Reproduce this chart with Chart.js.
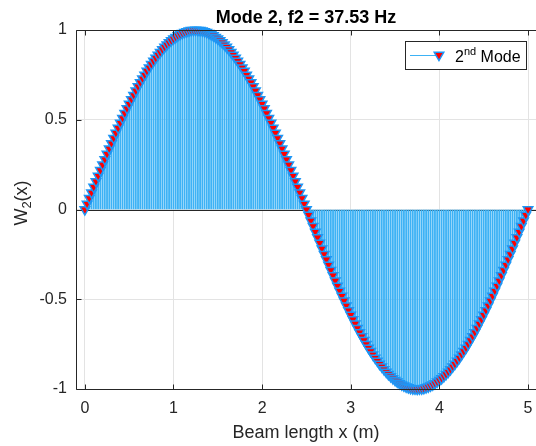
<!DOCTYPE html>
<html>
<head>
<meta charset="utf-8">
<script src="https://cdn.jsdelivr.net/npm/chart.js@4/dist/chart.umd.min.js"></script>
<style>
  html, body { margin: 0; padding: 0; background: #ffffff; }
  canvas { display: block; }
</style>
</head>
<body>
<canvas id="mode" width="536" height="446"></canvas>
<script>
// Sample positions along the beam (m)
const beamX = [
  0, 0.025, 0.05, 0.075, 0.1, 0.125, 0.15, 0.175,
  0.2, 0.225, 0.25, 0.275, 0.3, 0.325, 0.35, 0.375,
  0.4, 0.425, 0.45, 0.475, 0.5, 0.525, 0.55, 0.575,
  0.6, 0.625, 0.65, 0.675, 0.7, 0.725, 0.75, 0.775,
  0.8, 0.825, 0.85, 0.875, 0.9, 0.925, 0.95, 0.975,
  1, 1.025, 1.05, 1.075, 1.1, 1.125, 1.15, 1.175,
  1.2, 1.225, 1.25, 1.275, 1.3, 1.325, 1.35, 1.375,
  1.4, 1.425, 1.45, 1.475, 1.5, 1.525, 1.55, 1.575,
  1.6, 1.625, 1.65, 1.675, 1.7, 1.725, 1.75, 1.775,
  1.8, 1.825, 1.85, 1.875, 1.9, 1.925, 1.95, 1.975,
  2, 2.025, 2.05, 2.075, 2.1, 2.125, 2.15, 2.175,
  2.2, 2.225, 2.25, 2.275, 2.3, 2.325, 2.35, 2.375,
  2.4, 2.425, 2.45, 2.475, 2.5, 2.525, 2.55, 2.575,
  2.6, 2.625, 2.65, 2.675, 2.7, 2.725, 2.75, 2.775,
  2.8, 2.825, 2.85, 2.875, 2.9, 2.925, 2.95, 2.975,
  3, 3.025, 3.05, 3.075, 3.1, 3.125, 3.15, 3.175,
  3.2, 3.225, 3.25, 3.275, 3.3, 3.325, 3.35, 3.375,
  3.4, 3.425, 3.45, 3.475, 3.5, 3.525, 3.55, 3.575,
  3.6, 3.625, 3.65, 3.675, 3.7, 3.725, 3.75, 3.775,
  3.8, 3.825, 3.85, 3.875, 3.9, 3.925, 3.95, 3.975,
  4, 4.025, 4.05, 4.075, 4.1, 4.125, 4.15, 4.175,
  4.2, 4.225, 4.25, 4.275, 4.3, 4.325, 4.35, 4.375,
  4.4, 4.425, 4.45, 4.475, 4.5, 4.525, 4.55, 4.575,
  4.6, 4.625, 4.65, 4.675, 4.7, 4.725, 4.75, 4.775,
  4.8, 4.825, 4.85, 4.875, 4.9, 4.925, 4.95, 4.975,
  5
];

// Normalised mode-shape amplitude W2(x) at each sample
const modeShape = [
  0, 0.031, 0.063, 0.094, 0.125, 0.156, 0.187, 0.218,
  0.249, 0.279, 0.309, 0.339, 0.368, 0.397, 0.426, 0.454,
  0.482, 0.509, 0.536, 0.562, 0.588, 0.613, 0.637, 0.661,
  0.685, 0.707, 0.729, 0.750, 0.771, 0.790, 0.809, 0.827,
  0.844, 0.861, 0.876, 0.891, 0.905, 0.918, 0.930, 0.941,
  0.951, 0.960, 0.969, 0.976, 0.982, 0.988, 0.992, 0.996,
  0.998, 0.999, 1, 0.999, 0.998, 0.996, 0.992, 0.988,
  0.982, 0.976, 0.969, 0.960, 0.951, 0.941, 0.930, 0.918,
  0.905, 0.891, 0.876, 0.861, 0.844, 0.827, 0.809, 0.790,
  0.771, 0.750, 0.729, 0.707, 0.685, 0.661, 0.637, 0.613,
  0.588, 0.562, 0.536, 0.509, 0.482, 0.454, 0.426, 0.397,
  0.368, 0.339, 0.309, 0.279, 0.249, 0.218, 0.187, 0.156,
  0.125, 0.094, 0.063, 0.031, 0, -0.031, -0.063, -0.094,
  -0.125, -0.156, -0.187, -0.218, -0.249, -0.279, -0.309, -0.339,
  -0.368, -0.397, -0.426, -0.454, -0.482, -0.509, -0.536, -0.562,
  -0.588, -0.613, -0.637, -0.661, -0.685, -0.707, -0.729, -0.750,
  -0.771, -0.790, -0.809, -0.827, -0.844, -0.861, -0.876, -0.891,
  -0.905, -0.918, -0.930, -0.941, -0.951, -0.960, -0.969, -0.976,
  -0.982, -0.988, -0.992, -0.996, -0.998, -0.999, -1, -0.999,
  -0.998, -0.996, -0.992, -0.988, -0.982, -0.976, -0.969, -0.960,
  -0.951, -0.941, -0.930, -0.918, -0.905, -0.891, -0.876, -0.861,
  -0.844, -0.827, -0.809, -0.790, -0.771, -0.750, -0.729, -0.707,
  -0.685, -0.661, -0.637, -0.613, -0.588, -0.562, -0.536, -0.509,
  -0.482, -0.454, -0.426, -0.397, -0.368, -0.339, -0.309, -0.279,
  -0.249, -0.218, -0.187, -0.156, -0.125, -0.094, -0.063, -0.031,
  0
];

const xTickValues = [0, 1, 2, 3, 4, 5];
const yTickValues = [-1, -0.5, 0, 0.5, 1];
const yTickLabels = ['-1', '-0.5', '0', '0.5', '1'];

const titleText = 'Mode 2, f2 = 37.53 Hz';
const xLabelText = 'Beam length x (m)';

const FONT = '"Liberation Sans", Arial, Helvetica, sans-serif';
const AXIS_COLOR = '#262626';
const GRID_COLOR = '#e3e3e3';
const STEM_COLOR = '#3db2f5';
const MARKER_EDGE = '#1e96f5';
const MARKER_FILL = '#ff0000';

const points = beamX.map((x, i) => ({ x: x, y: modeShape[i] }));

function downTriangle(ctx, cx, cy, r) {
  ctx.beginPath();
  for (let k = 0; k < 3; k++) {
    const ang = Math.PI + k * 2 * Math.PI / 3;
    const px = cx + Math.sin(ang) * r, py = cy - Math.cos(ang) * r;
    if (k === 0) ctx.moveTo(px, py); else ctx.lineTo(px, py);
  }
  ctx.closePath();
}

// Axes box, inward ticks, titles and legend (MATLAB-style decorations)
const decorations = {
  id: 'decorations',
  beforeDatasetsDraw(chart) {
    const { ctx, chartArea: a, scales } = chart;
    const y0 = Math.round(scales.y.getPixelForValue(0)) + 0.5;
    ctx.save();
    ctx.strokeStyle = AXIS_COLOR;
    ctx.lineWidth = 1;
    ctx.beginPath();
    ctx.moveTo(a.left, y0);
    ctx.lineTo(a.right, y0);
    ctx.stroke();
    ctx.restore();
  },
  afterDraw(chart) {
    const { ctx, chartArea: a, scales } = chart;
    ctx.save();
    ctx.strokeStyle = AXIS_COLOR;
    ctx.lineWidth = 1;
    const L = Math.round(a.left) + 0.5;
    const B = Math.round(a.bottom) + 0.5;
    const T = Math.round(a.top) + 0.5;
    ctx.beginPath();
    ctx.moveTo(L, T); ctx.lineTo(a.right, T);
    ctx.moveTo(L, T); ctx.lineTo(L, B);
    ctx.moveTo(L, B); ctx.lineTo(a.right, B);
    const tl = 5;
    xTickValues.forEach(v => {
      const px = Math.round(scales.x.getPixelForValue(v)) + 0.5;
      ctx.moveTo(px, B); ctx.lineTo(px, B - tl);
      ctx.moveTo(px, T); ctx.lineTo(px, T + tl);
    });
    yTickValues.forEach(v => {
      const py = Math.round(scales.y.getPixelForValue(v)) + 0.5;
      ctx.moveTo(L, py); ctx.lineTo(L + tl, py);
    });
    ctx.stroke();

    // title
    ctx.fillStyle = '#000000';
    ctx.font = 'bold 18px ' + FONT;
    ctx.textAlign = 'center';
    ctx.textBaseline = 'alphabetic';
    ctx.fillText(titleText, (a.left + a.right) / 2, 23);

    // x label
    ctx.fillStyle = AXIS_COLOR;
    ctx.font = '18px ' + FONT;
    ctx.fillText(xLabelText, (a.left + a.right) / 2, 438);

    // y label with subscript: W_2(x)
    ctx.save();
    ctx.translate(27, 203);
    ctx.rotate(-Math.PI / 2);
    ctx.textAlign = 'left';
    const big = '18px ' + FONT, small = '13px ' + FONT;
    ctx.font = big; const wW = ctx.measureText('W').width;
    ctx.font = small; const w2 = ctx.measureText('2').width;
    ctx.font = big; const wx = ctx.measureText('(x)').width;
    let sx = -(wW + w2 + wx) / 2;
    ctx.font = big; ctx.fillText('W', sx, 0); sx += wW;
    ctx.font = small; ctx.fillText('2', sx, 4); sx += w2;
    ctx.font = big; ctx.fillText('(x)', sx, 0);
    ctx.restore();

    // legend
    const bx = 405.5, by = 41.5, bw = 121, bh = 28;
    ctx.fillStyle = '#ffffff';
    ctx.fillRect(bx, by, bw, bh);
    ctx.strokeStyle = AXIS_COLOR;
    ctx.strokeRect(bx, by, bw, bh);
    ctx.strokeStyle = STEM_COLOR;
    ctx.lineWidth = 1;
    ctx.beginPath();
    ctx.moveTo(410, 55.5); ctx.lineTo(440, 55.5);
    ctx.stroke();
    ctx.fillStyle = MARKER_FILL;
    ctx.strokeStyle = MARKER_EDGE;
    ctx.lineWidth = 1.5;
    downTriangle(ctx, 439, 55, 5.5);
    ctx.fill(); ctx.stroke();
    ctx.fillStyle = '#000000';
    ctx.textAlign = 'left';
    ctx.font = '16px ' + FONT;
    ctx.fillText('2', 455, 62);
    const w2l = ctx.measureText('2').width;
    ctx.font = '11px ' + FONT;
    ctx.fillText('nd', 455 + w2l, 55);
    const wnd = ctx.measureText('nd').width;
    ctx.font = '16px ' + FONT;
    ctx.fillText(' Mode', 455 + w2l + wnd, 62);
    ctx.restore();
  }
};

new Chart(document.getElementById('mode'), {
  type: 'bar',
  data: {
    datasets: [
      {
        type: 'line',
        label: '2nd Mode',
        data: points,
        showLine: false,
        pointStyle: 'triangle',
        rotation: 180,
        pointRadius: 5.5,
        pointBorderWidth: 1.5,
        pointBackgroundColor: MARKER_FILL,
        pointBorderColor: MARKER_EDGE,
        clip: false,
        order: 0
      },
      {
        type: 'bar',
        label: 'stems',
        data: points,
        backgroundColor: STEM_COLOR,
        borderWidth: 0,
        barThickness: 1.2,
        grouped: false,
        order: 1
      }
    ]
  },
  options: {
    responsive: false,
    devicePixelRatio: 1,
    animation: false,
    events: [],
    layout: { autoPadding: false, padding: { top: 30, right: 0, left: 0, bottom: 0 } },
    plugins: {
      legend: { display: false },
      title: { display: false },
      tooltip: { enabled: false }
    },
    scales: {
      x: {
        type: 'linear',
        min: -0.1,
        max: 5.09,
        offset: false,
        afterBuildTicks: s => { s.ticks = xTickValues.map(v => ({ value: v })); },
        afterFit: s => { s.height = 57; s.paddingLeft = 0; s.paddingRight = 0; },
        grid: { color: GRID_COLOR, drawTicks: false, offset: false },
        border: { display: false },
        ticks: {
          color: AXIS_COLOR,
          font: { family: FONT, size: 16 },
          padding: 10,
          maxRotation: 0,
          callback: v => String(v)
        }
      },
      y: {
        type: 'linear',
        min: -1,
        max: 1,
        afterBuildTicks: s => { s.ticks = yTickValues.map(v => ({ value: v })); },
        afterFit: s => { s.width = 76; s.paddingTop = 0; s.paddingBottom = 0; },
        grid: { color: GRID_COLOR, drawTicks: false },
        border: { display: false },
        ticks: {
          color: AXIS_COLOR,
          font: { family: FONT, size: 16 },
          padding: 9,
          callback: v => yTickLabels[yTickValues.indexOf(v)]
        }
      }
    }
  },
  plugins: [decorations]
});
</script>
</body>
</html>
